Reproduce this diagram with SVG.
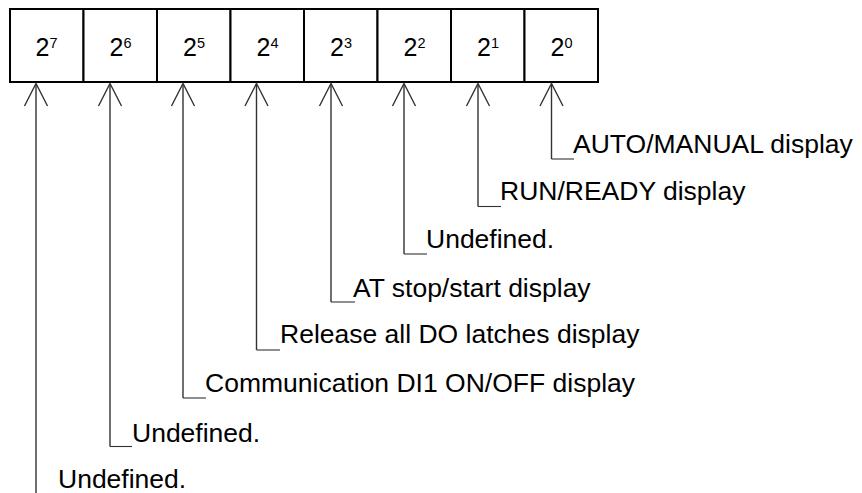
<svg xmlns="http://www.w3.org/2000/svg" width="862" height="493" viewBox="0 0 862 493">
<style>
.cell{fill:#fff;stroke:#000;stroke-width:2}
.dig{font-family:"Liberation Sans",Arial,sans-serif;font-size:25px;fill:#000;text-anchor:middle}
.sup{font-size:14.5px}
.lbl{font-family:"Liberation Sans",Arial,sans-serif;font-size:26.5px;fill:#000}
.arr{fill:none;stroke:#333;stroke-width:1.4}
.hook{fill:none;stroke:#333;stroke-width:1.1}
</style>
<defs>
<path id="head" d="M-11.5,106 L0,83.5 L11.5,106" class="arr"/>
</defs>
<g id="register">
<g id="bit7"><rect class="cell" x="10" y="9" width="73.5" height="73"/><text class="dig" x="46.5" y="56">2<tspan class="sup" dy="-8.5">7</tspan></text></g>
<g id="bit6"><rect class="cell" x="83.5" y="9" width="73.5" height="73"/><text class="dig" x="120.5" y="56">2<tspan class="sup" dy="-8.5">6</tspan></text></g>
<g id="bit5"><rect class="cell" x="157" y="9" width="73.5" height="73"/><text class="dig" x="194" y="56">2<tspan class="sup" dy="-8.5">5</tspan></text></g>
<g id="bit4"><rect class="cell" x="230.5" y="9" width="73.5" height="73"/><text class="dig" x="267.5" y="56">2<tspan class="sup" dy="-8.5">4</tspan></text></g>
<g id="bit3"><rect class="cell" x="304" y="9" width="73.5" height="73"/><text class="dig" x="341" y="56">2<tspan class="sup" dy="-8.5">3</tspan></text></g>
<g id="bit2"><rect class="cell" x="377.5" y="9" width="73.5" height="73"/><text class="dig" x="414.5" y="56">2<tspan class="sup" dy="-8.5">2</tspan></text></g>
<g id="bit1"><rect class="cell" x="451" y="9" width="73.5" height="73"/><text class="dig" x="488" y="56">2<tspan class="sup" dy="-8.5">1</tspan></text></g>
<g id="bit0"><rect class="cell" x="524.5" y="9" width="73.5" height="73"/><text class="dig" x="561.5" y="56">2<tspan class="sup" dy="-8.5">0</tspan></text></g>
</g>
<g id="connectors">
<g transform="translate(36,0)"><use href="#head"/></g>
<g transform="translate(110,0)"><use href="#head"/></g>
<g transform="translate(183,0)"><use href="#head"/></g>
<g transform="translate(256.5,0)"><use href="#head"/></g>
<g transform="translate(331,0)"><use href="#head"/></g>
<g transform="translate(404,0)"><use href="#head"/></g>
<g transform="translate(478,0)"><use href="#head"/></g>
<g transform="translate(551.5,0)"><use href="#head"/></g>
<path class="arr" d="M36,84 V493"/>
<path class="arr" d="M110,84 V446.5"/><path class="hook" d="M110,446.5 H132"/>
<path class="arr" d="M183,84 V398"/><path class="hook" d="M183,398 H206"/>
<path class="arr" d="M256.5,84 V350"/><path class="hook" d="M256.5,350 H280"/>
<path class="arr" d="M331,84 V302"/><path class="hook" d="M331,302 H355"/>
<path class="arr" d="M404,84 V254"/><path class="hook" d="M404,254 H427"/>
<path class="arr" d="M478,84 V206.5"/><path class="hook" d="M478,206.5 H501"/>
<path class="arr" d="M551.5,84 V159"/><path class="hook" d="M551.5,159 H574"/>
</g>
<g id="labels">
<text class="lbl" x="573" y="153">AUTO/MANUAL display</text>
<text class="lbl" x="500" y="200">RUN/READY display</text>
<text class="lbl" x="426" y="248">Undefined.</text>
<text class="lbl" x="353" y="296.5">AT stop/start display</text>
<text class="lbl" x="280" y="343">Release all DO latches display</text>
<text class="lbl" x="205" y="391.5">Communication DI1 ON/OFF display</text>
<text class="lbl" x="132" y="441.5">Undefined.</text>
<text class="lbl" x="58" y="488">Undefined.</text>
</g>
</svg>
